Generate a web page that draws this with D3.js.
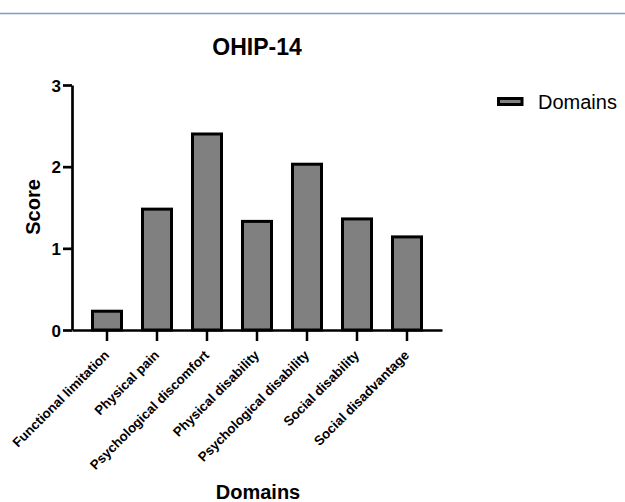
<!DOCTYPE html>
<html>
<head>
<meta charset="utf-8">
<script src="https://cdn.jsdelivr.net/npm/d3@7/dist/d3.min.js"></script>
<style>
  html, body { margin: 0; padding: 0; background: #fff; }
  svg { display: block; font-family: "Liberation Sans", Arial, Helvetica, sans-serif; }
</style>
</head>
<body>
<svg id="chart" width="625" height="502"></svg>
<script>
const categories = ["Functional limitation", "Physical pain", "Psychological discomfort",
  "Physical disability", "Psychological disability", "Social disability", "Social disadvantage"];
const scores = [0.23, 1.48, 2.40, 1.33, 2.03, 1.36, 1.14];
const yTicks = [0, 1, 2, 3];
const seriesName = "Domains";
const title = "OHIP-14";
const xTitle = "Domains";
const yTitle = "Score";

const svg = d3.select("#chart");

// top decorative rule
svg.append("line").attr("x1", 0).attr("x2", 625).attr("y1", 13.5).attr("y2", 13.5)
  .attr("stroke", "#7c9ec6").attr("stroke-width", 1.3);

const x = d3.scaleBand().domain(categories).range([72, 442]).paddingInner(0.42).paddingOuter(0.41);
const y = d3.scaleLinear().domain([0, 3]).range([330, 85]);

// bars
svg.append("g").selectAll("rect").data(categories).join("rect")
  .attr("x", d => x(d))
  .attr("width", x.bandwidth())
  .attr("y", (d, i) => y(scores[i]))
  .attr("height", (d, i) => y(0) - y(scores[i]))
  .attr("fill", "#808080")
  .attr("stroke", "#000")
  .attr("stroke-width", 3);

// y axis
const yAxis = svg.append("g").attr("transform", "translate(72,0)")
  .call(d3.axisLeft(y).tickValues(yTicks).tickFormat(d3.format("d")).tickSize(9).tickSizeOuter(0));
yAxis.attr("font-size", null).attr("font-family", null);
yAxis.select(".domain").attr("stroke", "#000").attr("stroke-width", 2.7);
yAxis.selectAll(".tick line").attr("stroke", "#000").attr("stroke-width", 2.7);
yAxis.selectAll(".tick text").style("font-size", "17px").style("font-weight", "bold")
  .attr("fill", "#000").attr("x", -11).attr("dy", "0.36em");

// x axis
const xAxis = svg.append("g").attr("transform", "translate(0,330)")
  .call(d3.axisBottom(x).tickSize(11).tickSizeOuter(0));
xAxis.attr("font-size", null).attr("font-family", null);
xAxis.select(".domain").attr("stroke", "#000").attr("stroke-width", 2.7);
xAxis.selectAll(".tick line").attr("stroke", "#000").attr("stroke-width", 2.5);
xAxis.selectAll(".tick text")
  .style("font-size", "13.3px").style("font-weight", "bold").attr("fill", "#000")
  .attr("text-anchor", "end")
  .attr("x", 0).attr("y", 0).attr("dy", 0)
  .attr("transform", "translate(3,26) rotate(-45)");

// title
svg.append("text").attr("x", 257).attr("y", 55).attr("text-anchor", "middle")
  .attr("font-size", 23).attr("font-weight", "bold").attr("fill", "#000").text(title);

// axis titles
svg.append("text").attr("x", 258).attr("y", 499).attr("text-anchor", "middle")
  .attr("font-size", 20).attr("font-weight", "bold").attr("fill", "#000").text(xTitle);
svg.append("text").attr("transform", "translate(40,207) rotate(-90)").attr("text-anchor", "middle")
  .attr("font-size", 20).attr("font-weight", "bold").attr("fill", "#000").text(yTitle);

// legend
const lg = svg.append("g");
lg.append("rect").attr("x", 498.5).attr("y", 98.5).attr("width", 23.5).attr("height", 6)
  .attr("fill", "#808080").attr("stroke", "#000").attr("stroke-width", 3);
lg.append("text").attr("x", 538).attr("y", 101.5).attr("dy", "0.36em")
  .attr("font-size", 20).attr("fill", "#000").text(seriesName);
</script>
</body>
</html>
